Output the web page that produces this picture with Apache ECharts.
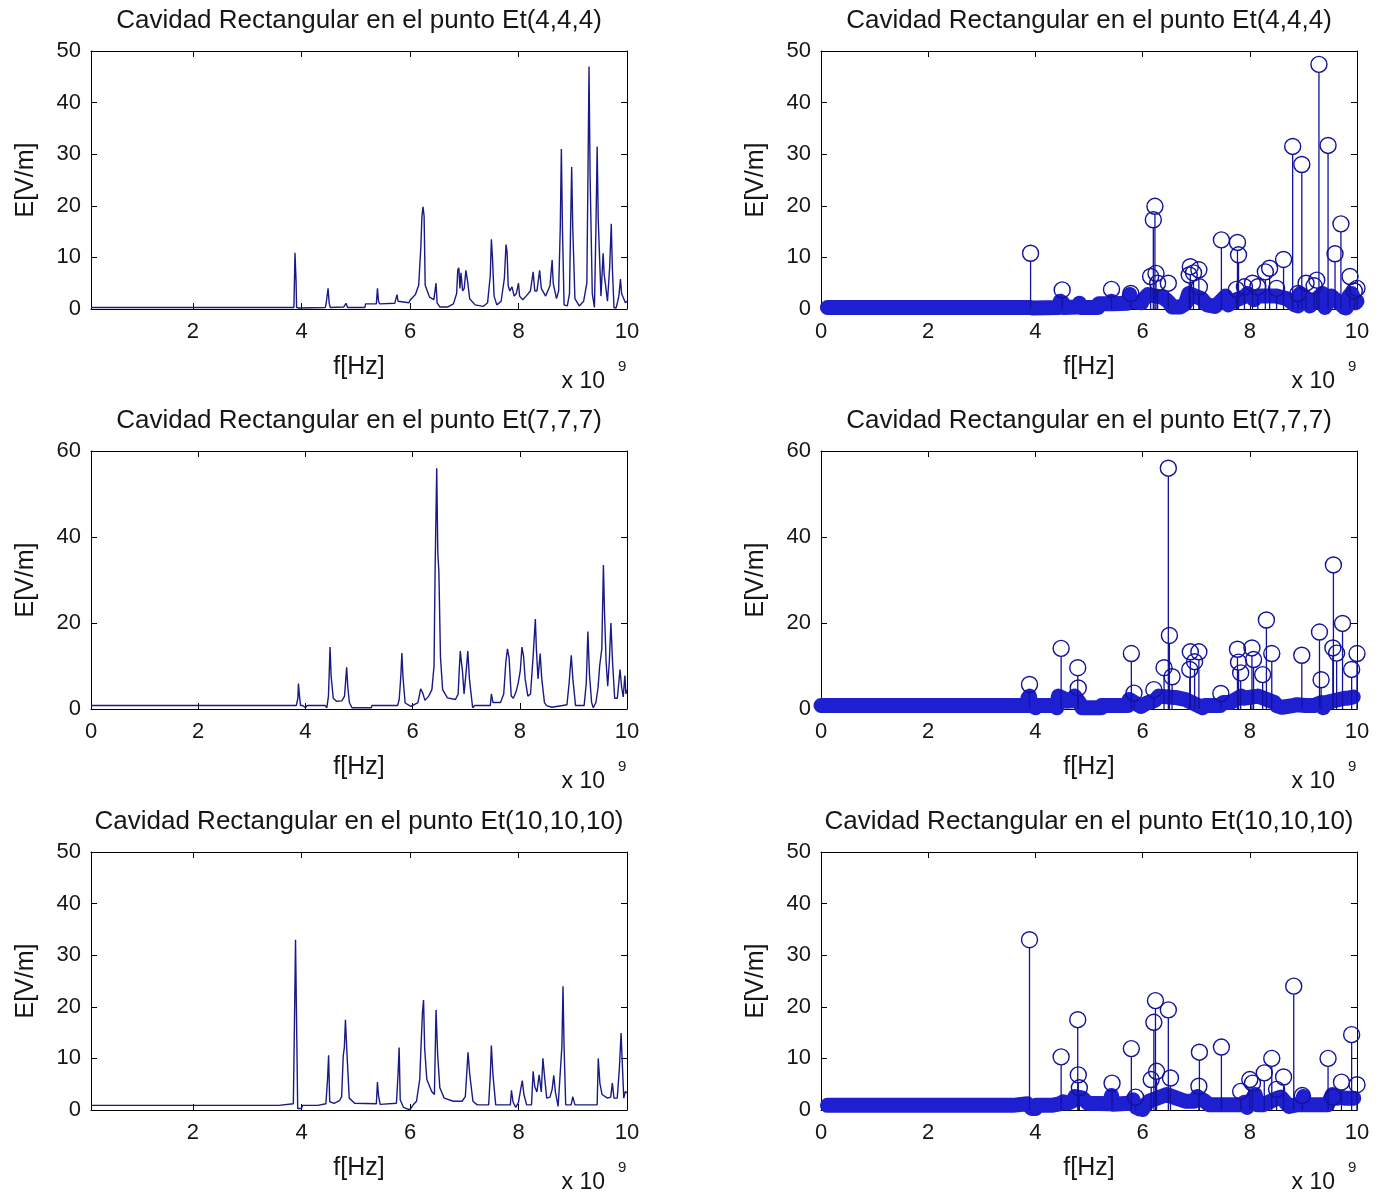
<!DOCTYPE html>
<html><head><meta charset="utf-8">
<script src="https://cdn.jsdelivr.net/npm/echarts@6/dist/echarts.min.js"></script>
<style>html,body{margin:0;padding:0;background:#fff}#c{width:1385px;height:1194px}</style>
</head><body><div id="c"></div>
<script>
// ---------- DATA ----------
const titles = ['Cavidad Rectangular en el punto Et(4,4,4)', 'Cavidad Rectangular en el punto Et(7,7,7)', 'Cavidad Rectangular en el punto Et(10,10,10)'];
const xLabelName = 'f[Hz]';
const yLabelName = 'E[V/m]';
const xScaleNote = 'x 10';
const xScaleExp = '9';
const yMaxRows = [50, 60, 50];
const yStepRows = [10, 20, 10];
const xMinLeftRows = [0.12, 0, 0.12];
const xTicksLeftRows = [[2,4,6,8,10],[0,2,4,6,8,10],[2,4,6,8,10]];
const xTicksRight = [0,2,4,6,8,10];

// Row 1: Et(4,4,4) — curve (f in GHz, E in V/m)
const c1F = [0.12,3.86,3.87,3.88,3.90,3.91,3.95,4.44,4.46,4.49,4.51,4.53,4.78,4.82,4.85,5.17,5.18,5.38,5.40,5.42,5.44,5.72,5.76,5.78,5.80,5.98,6.00,6.10,6.16,6.20,6.22,6.24,6.26,6.28,6.36,6.44,6.48,6.50,6.55,6.70,6.80,6.86,6.88,6.90,6.92,6.94,6.97,7.00,7.03,7.06,7.10,7.20,7.35,7.43,7.48,7.50,7.52,7.55,7.60,7.68,7.74,7.77,7.79,7.81,7.84,7.88,7.92,7.96,8.00,8.02,8.08,8.14,8.22,8.27,8.30,8.34,8.39,8.42,8.50,8.58,8.62,8.64,8.70,8.74,8.77,8.79,8.81,8.84,8.90,8.94,8.96,8.98,9.00,9.04,9.12,9.20,9.26,9.28,9.30,9.32,9.36,9.40,9.43,9.45,9.47,9.52,9.56,9.58,9.60,9.64,9.68,9.71,9.73,9.76,9.80,9.85,9.88,9.90,9.94,9.97,10.0];
const c1E = [0.3,0.3,5.4,10.9,5.4,0.3,0.2,0.3,1.5,4.0,1.2,0.3,0.4,1.1,0.3,0.3,1.0,1.0,4.0,1.5,1.0,1.1,2.8,1.5,1.2,1.2,1.7,2.8,4.6,12,18,19.8,18,4.6,2.3,1.8,5.0,1.2,0.4,0.4,1.0,3,7.5,8.0,4,7,3.5,4,7.5,5.5,2,0.8,0.5,1.2,6.5,13.5,10,2.5,0.8,1.5,6,12.5,11,4.5,3.5,4.3,2.5,3,5,2.5,1.8,2.5,3.5,7.2,3.5,3.5,7.5,4,2.5,4.5,9.5,5,2,3.5,15.8,31,15.8,0.8,0.6,3,15.8,27.5,15.8,2,0.6,1.5,5,25.5,47,25.5,3,0.3,17.3,31.5,17.3,2.5,10.8,6.6,5,1.5,8,16.5,8,0.3,0.2,2.5,5.8,3,2,1.2,1.5];
// Row 1 stems
const s1F = [3.91,4.50,5.42,5.78,6.15,6.20,6.23,6.25,6.28,6.48,6.87,6.89,6.95,7.05,7.06,7.47,7.75,7.77,7.79,7.90,8.05,8.15,8.29,8.37,8.50,8.63,8.80,8.90,8.97,9.05,9.20,9.25,9.29,9.46,9.59,9.70,9.87,9.95,10.0];
const s1E = [10.8,3.7,3.8,3.0,6.3,17.3,19.9,6.9,5.0,5.0,6.6,8.2,7.0,7.6,4.3,13.4,3.8,12.9,10.5,4.3,5.0,4.3,7.2,7.9,4.0,9.6,31.5,3.0,28.0,5.0,4.5,5.6,47.4,31.7,10.7,16.5,6.3,3.5,4.0];

// Row 2: Et(7,7,7)
const c2F = [0,3.83,3.86,3.87,3.89,3.91,3.95,4.00,4.03,4.37,4.40,4.43,4.46,4.48,4.52,4.58,4.68,4.73,4.77,4.79,4.82,4.87,5.23,5.24,5.72,5.75,5.78,5.80,5.82,5.86,5.97,6.10,6.15,6.19,6.23,6.30,6.36,6.40,6.42,6.45,6.47,6.49,6.52,6.56,6.65,6.80,6.85,6.87,6.89,6.91,6.93,6.96,7.00,7.03,7.06,7.12,7.16,7.45,7.47,7.50,7.64,7.70,7.74,7.77,7.80,7.84,7.88,7.93,7.97,8.01,8.04,8.07,8.10,8.15,8.20,8.25,8.29,8.31,8.34,8.38,8.41,8.46,8.50,8.60,8.80,8.88,8.92,8.96,8.99,9.04,9.20,9.24,9.27,9.30,9.34,9.37,9.42,9.46,9.49,9.53,9.56,9.58,9.61,9.64,9.67,9.70,9.73,9.77,9.82,9.87,9.90,9.93,9.96,9.98,10.0];
const c2E = [0.8,0.8,2.5,5.9,3,0.8,0.8,0.3,0.8,0.8,0.3,3,14.4,7.6,2.5,1.8,1.9,3,9.7,5.3,1.5,0.3,0.3,0.8,0.8,2.2,7.6,13,7.6,1.4,0.6,1.5,4.7,3.7,2,3,4.5,10,32.5,56,36.4,32,12.1,4.5,2.6,2.2,3.5,9,13.5,11,8.8,3.5,8.8,13.5,7,0.3,0.8,0.8,3.5,1.5,1.5,3.5,11,14,11.9,3,2.5,4,6,9,14.4,12.3,7,3,3.5,12.5,20.9,13.8,7,12.9,7,1.5,0.8,0.4,0.8,1.0,6,12.5,7,0.8,0.8,6,18,8,1.5,0.3,1.5,5,10,14,33.5,22.8,11,5.3,11,20,11,2.5,2.5,9.2,5,2.8,7.8,3.5,4.5];
const s2F = [3.89,4.48,4.79,4.80,5.79,5.84,6.21,6.40,6.48,6.50,6.55,6.88,6.89,6.97,7.05,7.46,7.77,7.79,7.83,8.04,8.07,8.24,8.31,8.41,8.97,9.30,9.33,9.55,9.56,9.62,9.73,9.90,10.0];
const s2E = [5.7,14.1,9.6,4.9,12.9,3.7,4.5,9.6,56.0,17.1,7.5,9.2,13.3,11.0,13.3,3.6,13.9,10.9,8.4,14.2,11.5,8.0,20.7,12.9,12.5,17.9,6.8,14.2,33.5,13.0,19.9,9.2,12.9];

// Row 3: Et(10,10,10)
const c3F = [0.12,3.58,3.60,3.85,3.87,3.89,3.91,3.93,4.00,4.02,4.30,4.33,4.45,4.48,4.50,4.52,4.60,4.70,4.74,4.77,4.79,4.81,4.84,4.88,4.98,5.38,5.40,5.42,5.45,5.75,5.78,5.80,5.82,5.88,5.95,6.00,6.06,6.12,6.18,6.20,6.23,6.25,6.27,6.31,6.40,6.45,6.48,6.51,6.55,6.63,6.80,6.96,7.02,7.05,7.07,7.10,7.16,7.24,7.45,7.48,7.50,7.53,7.58,7.85,7.87,7.90,7.95,8.00,8.04,8.07,8.10,8.15,8.24,8.27,8.30,8.34,8.38,8.42,8.45,8.48,8.52,8.58,8.62,8.65,8.68,8.73,8.76,8.80,8.82,8.84,8.87,8.97,9.00,9.04,9.45,9.47,9.50,9.54,9.64,9.70,9.73,9.76,9.82,9.86,9.89,9.91,9.94,9.97,10.0];
const c3E = [0.9,0.9,1.2,1.2,16.6,33,16.6,0.3,0.3,0.9,0.9,1.2,1.2,5.9,10.6,1.6,1.3,1.8,2.6,10.6,12.1,17.5,10.6,2.3,1.3,1.2,5.4,2.8,1.1,1.3,7,12.1,2,0.5,0.2,0.1,1.0,1.7,6,11.4,19,21.3,12,5.9,3.6,3,19.4,10.7,4.3,2.3,1.7,1.7,2.6,7.8,11.2,7,1.7,1.0,1.0,6.7,12.5,6.7,1.0,1.0,3.8,1.5,0.5,1.5,4,5.7,3,1.0,1.0,7.5,4.5,3.5,6.8,3.5,10,6.5,2.3,2.5,4,6.7,3.5,0.7,1.0,12.3,24,12.3,1.0,1.0,2.6,1.0,1.0,10,5.2,3,2.3,2.5,5.2,2.3,2.3,8.1,14.9,10,2.3,3.6,3.3];
const s3F = [3.89,4.48,4.79,4.80,4.82,5.43,5.79,5.87,6.16,6.21,6.24,6.26,6.48,6.52,7.05,7.06,7.47,7.83,8.00,8.05,8.27,8.41,8.50,8.63,8.82,8.98,9.46,9.55,9.71,9.90,10.0];
const s3E = [33.0,10.3,17.5,6.8,4.3,5.2,11.9,2.5,5.9,17.0,21.2,7.5,19.4,6.2,4.6,11.2,12.2,3.6,5.9,5.2,7.2,10.0,4.0,6.4,24.0,2.8,10.0,2.5,5.4,14.6,4.9];

// ---------- BUILD ----------
const curvesF = [c1F, c2F, c3F], curvesE = [c1E, c2E, c3E];
const stemsF = [s1F, s2F, s3F], stemsE = [s1E, s2E, s3E];
const FONT = '"Liberation Sans", Arial, Helvetica, sans-serif';
const TXT = '#161616';
const gridX = [91, 821];
const gridTop = [51, 451, 852];
const GW = 536, GH = 258;
const BAND_MAX = 3;

const zip = (a, b) => a.map((v, i) => [v, b[i]]);
const grids = [], xAxes = [], yAxes = [], series = [], graphics = [];

for (let r = 0; r < 3; r++) {
  for (let c = 0; c < 2; c++) {
    const g = r * 2 + c;
    grids.push({ left: gridX[c], top: gridTop[r], width: GW, height: GH, containLabel: false, show: false });
    const xmin = c === 0 ? xMinLeftRows[r] : 0;
    const ticks = c === 0 ? xTicksLeftRows[r] : xTicksRight;
    const axLine = { show: true, onZero: false, lineStyle: { color: '#000', width: 1 } };
    xAxes.push({
      type: 'value', gridIndex: g, position: 'bottom', min: xmin, max: 10,
      axisLine: axLine,
      axisTick: { show: true, inside: true, length: 6, customValues: ticks, lineStyle: { color: '#000' } },
      axisLabel: { show: true, customValues: ticks, margin: 12, fontSize: 22, color: TXT, fontFamily: FONT },
      splitLine: { show: false },
      name: xLabelName, nameLocation: 'middle', nameGap: 46,
      nameTextStyle: { fontSize: 25, color: TXT, fontFamily: FONT }
    });
    xAxes.push({
      type: 'value', gridIndex: g, position: 'top', min: xmin, max: 10,
      axisLine: axLine,
      axisTick: { show: true, inside: true, length: 6, customValues: ticks, lineStyle: { color: '#000' } },
      axisLabel: { show: false }, splitLine: { show: false }
    });
    yAxes.push({
      type: 'value', gridIndex: g, position: 'left', min: 0, max: yMaxRows[r], interval: yStepRows[r],
      axisLine: axLine,
      axisTick: { show: true, inside: true, length: 6, lineStyle: { color: '#000' } },
      axisLabel: { show: true, margin: 10, fontSize: 22, color: TXT, fontFamily: FONT },
      splitLine: { show: false },
      name: yLabelName, nameLocation: 'middle', nameGap: 52, nameRotate: 90,
      nameTextStyle: { fontSize: 25, color: TXT, fontFamily: FONT }
    });
    yAxes.push({
      type: 'value', gridIndex: g, position: 'right', min: 0, max: yMaxRows[r], interval: yStepRows[r],
      axisLine: axLine,
      axisTick: { show: true, inside: true, length: 6, lineStyle: { color: '#000' } },
      axisLabel: { show: false }, splitLine: { show: false }
    });

    if (c === 0) {
      series.push({
        type: 'line', xAxisIndex: 2 * g, yAxisIndex: 2 * g, data: zip(curvesF[r], curvesE[r]),
        showSymbol: false, symbol: 'none', animation: false, clip: false,
        lineStyle: { color: '#1a1a86', width: 1.4 }
      });
    } else {
      const band = zip(curvesF[r], curvesE[r]).filter(p => p[1] <= BAND_MAX);
      series.push({
        type: 'line', xAxisIndex: 2 * g, yAxisIndex: 2 * g, data: band,
        showSymbol: false, symbol: 'none', animation: false, clip: false, z: 2,
        lineStyle: { color: '#1f1fd2', width: 15, cap: 'round', join: 'round' }
      });
      series.push({
        type: 'custom', xAxisIndex: 2 * g, yAxisIndex: 2 * g, data: zip(stemsF[r], stemsE[r]),
        animation: false, clip: false, z: 3,
        renderItem: (params, api) => {
          const x = api.value(0), y = api.value(1);
          const p0 = api.coord([x, 0]);
          const p1 = api.coord([x, y]);
          return {
            type: 'group', children: [
              { type: 'line', shape: { x1: p0[0], y1: p0[1], x2: p1[0], y2: p1[1] + 8 },
                style: { stroke: '#12129c', lineWidth: 1.3 } },
              { type: 'circle', shape: { cx: p1[0], cy: p1[1], r: 8 },
                style: { stroke: '#12129c', fill: 'none', lineWidth: 1.4 } }
            ]
          };
        }
      });
    }

    // title
    graphics.push({ type: 'text', x: gridX[c] + GW / 2, y: gridTop[r] - 30,
      style: { text: titles[r], font: '26px ' + FONT, fill: TXT, align: 'center', verticalAlign: 'middle',
               textAlign: 'center', textVerticalAlign: 'middle' } });
    // x 10^9
    graphics.push({ type: 'text', x: gridX[c] + GW - 22, y: gridTop[r] + GH + 73,
      style: { text: xScaleNote, font: '23px ' + FONT, fill: TXT, align: 'right', verticalAlign: 'middle',
               textAlign: 'right', textVerticalAlign: 'middle' } });
    graphics.push({ type: 'text', x: gridX[c] + GW - 9, y: gridTop[r] + GH + 58,
      style: { text: xScaleExp, font: '15px ' + FONT, fill: TXT, align: 'left', verticalAlign: 'middle',
               textAlign: 'left', textVerticalAlign: 'middle' } });
  }
}

const chart = echarts.init(document.getElementById('c'), null, { renderer: 'canvas' });
chart.setOption({
  backgroundColor: '#fff',
  animation: false,
  grid: grids, xAxis: xAxes, yAxis: yAxes, series: series, graphic: graphics
});
</script></body></html>
